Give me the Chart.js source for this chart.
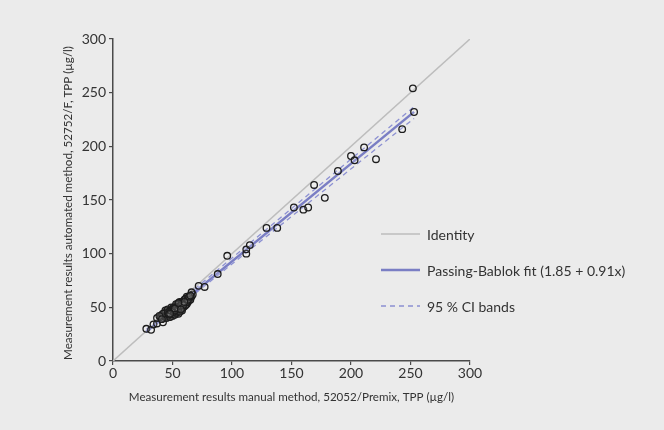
<!DOCTYPE html>
<html>
<head>
<meta charset="utf-8">
<script src="https://cdn.jsdelivr.net/npm/chart.js@4.4.0/dist/chart.umd.min.js"></script>
<style>
html, body { margin: 0; padding: 0; background: #ebebeb; }
#wrap { width: 664px; height: 430px; }
</style>
</head>
<body>
<div id="wrap"><canvas id="chart1" width="664" height="430"></canvas></div>
<script>
// manual method (x) vs automated method (y), TPP in µg/l
var manualVals = [28, 32, 34, 37, 37, 42,
    40, 41, 42, 43, 43, 44, 44, 45, 45, 46, 46, 47, 47, 47, 48, 48, 49, 49, 50, 50, 50,
    51, 51, 52, 52, 53, 53, 54, 54, 55, 55, 55, 56, 56, 57, 57, 58, 58, 59, 60, 60, 61,
    62, 62, 63, 64, 62, 64, 65, 66, 67, 66,
    44, 45, 46, 48, 49, 50, 51, 52, 52, 53, 54, 54, 55, 56, 56, 57, 58, 59, 59, 60,
    61, 61, 62, 63, 63, 64, 65, 58, 53, 49, 47, 42, 39, 41,
    46, 47, 48, 49, 50, 51, 51, 52, 53, 54, 55, 56, 57, 58, 59, 60, 48, 52, 55, 57,
    72, 77, 88, 96, 112, 112, 115, 129, 138, 152, 160, 164, 169, 178, 189, 200, 203,
    211, 221, 243, 252, 253];
var autoVals = [30, 29, 34, 35, 40, 36,
    41, 43, 40, 44, 42, 45, 41, 43, 46, 44, 42, 45, 47, 41, 43, 46, 48, 44, 42, 46, 49,
    47, 44, 50, 46, 48, 51, 45, 49, 52, 44, 47, 50, 53, 49, 54, 52, 47, 55, 51, 54, 56,
    53, 57, 55, 58, 60, 57, 57, 60, 62, 64,
    47, 40, 48, 41, 50, 44, 50, 43, 48, 45, 52, 47, 50, 46, 55, 51, 55, 50, 53, 57,
    52, 58, 55, 59, 57, 60, 61, 49, 53, 46, 43, 44, 42, 39,
    45, 44, 47, 47, 48, 46, 48, 47, 50, 50, 49, 51, 52, 53, 52, 55, 44, 49, 54, 48,
    70, 69, 81, 98, 100, 104, 108, 124, 124, 143, 141, 143, 164, 152, 177, 191, 187,
    199, 188, 216, 254, 232];

var axisTicks = [0, 50, 100, 150, 200, 250, 300];
var identityX = [0, 300];
var fitIntercept = 1.85;
var fitSlope = 0.91;
var fitX = [28, 253];
var ciUpper = [29.5, 237];
var ciLower = [26.5, 226];

var legendLabels = ['Identity', 'Passing-Bablok fit (1.85 + 0.91x)', '95 % CI bands'];
var xTitle = 'Measurement results manual method, 52052/Premix, TPP (\u00b5g/l)';
var yTitle = 'Measurement results automated method, 52752/F, TPP (\u00b5g/l)';

var fontFam = 'Lato, "Noto Sans", sans-serif';
var textColor = '#333333';
var axisColor = '#4a4a4a';

function pairs(xs, ys) {
    return xs.map(function(x, i) { return {x: x, y: ys[i]}; });
}

var scatterPts = pairs(manualVals, autoVals);
var identityPts = pairs(identityX, identityX);
var fitPts = pairs(fitX, fitX.map(function(x) { return fitIntercept + fitSlope * x; }));
var upperPts = pairs(fitX, ciUpper);
var lowerPts = pairs(fitX, ciLower);

// legend and axis titles sit inside / around the plot, drawn by hand
var overlayPlugin = {
    id: 'overlay',
    afterDraw: function(chart) {
        var ctx = chart.ctx;
        var area = chart.chartArea;
        ctx.save();
        ctx.fillStyle = textColor;
        ctx.font = '11.6px ' + fontFam;
        ctx.textAlign = 'center';
        ctx.textBaseline = 'middle';
        ctx.fillText(xTitle, (area.left + area.right) / 2, 397);
        ctx.save();
        ctx.translate(68, (area.top + area.bottom) / 2 + 3);
        ctx.rotate(-Math.PI / 2);
        ctx.fillText(yTitle, 0, 0);
        ctx.restore();

        var rows = [234, 270, 306];
        var sets = [chart.data.datasets[4], chart.data.datasets[3], chart.data.datasets[1]];
        ctx.font = '14px ' + fontFam;
        ctx.textAlign = 'left';
        for (var i = 0; i < rows.length; i++) {
            var ds = sets[i];
            ctx.beginPath();
            ctx.strokeStyle = ds.borderColor;
            ctx.lineWidth = ds.borderWidth;
            ctx.setLineDash(ds.borderDash || []);
            ctx.moveTo(381, rows[i]);
            ctx.lineTo(420, rows[i]);
            ctx.stroke();
            ctx.setLineDash([]);
            ctx.fillStyle = textColor;
            ctx.fillText(legendLabels[i], 427, rows[i] + 1);
        }
        ctx.restore();
    }
};

function axisOpts(isX) {
    return {
        type: 'linear',
        min: 0,
        max: 300,
        afterBuildTicks: function(scale) {
            scale.ticks = axisTicks.map(function(v) { return {value: v}; });
        },
        afterFit: function(scale) {
            if (isX) scale.height = 69;
            else scale.width = 113;
        },
        ticks: {
            color: textColor,
            font: {family: fontFam, size: 14},
            padding: isX ? 0 : 3,
            maxRotation: 0
        },
        grid: {
            drawOnChartArea: false,
            drawTicks: true,
            tickLength: 4,
            color: axisColor,
            lineWidth: 1.2
        },
        border: {display: true, color: axisColor, width: 1.5}
    };
}

new Chart(document.getElementById('chart1'), {
    type: 'scatter',
    data: {
        datasets: [
            {
                data: scatterPts,
                pointRadius: 3.3,
                pointBorderWidth: 1.3,
                borderColor: '#1c1c1c',
                backgroundColor: 'rgba(255,255,255,0.15)'
            },
            {
                data: upperPts,
                showLine: true,
                pointRadius: 0,
                borderColor: '#8c90d2',
                borderWidth: 1.3,
                borderDash: [5, 4]
            },
            {
                data: lowerPts,
                showLine: true,
                pointRadius: 0,
                borderColor: '#8c90d2',
                borderWidth: 1.3,
                borderDash: [5, 4]
            },
            {
                data: fitPts,
                showLine: true,
                pointRadius: 0,
                borderColor: '#7a7ec4',
                borderWidth: 2.5
            },
            {
                data: identityPts,
                showLine: true,
                pointRadius: 0,
                borderColor: '#bdbdbd',
                borderWidth: 1.5
            }
        ]
    },
    options: {
        responsive: false,
        animation: false,
        layout: {padding: {left: 0, top: 39, right: 194, bottom: 0}},
        plugins: {
            legend: {display: false},
            tooltip: {enabled: false}
        },
        scales: {
            x: axisOpts(true),
            y: axisOpts(false)
        }
    },
    plugins: [overlayPlugin]
});
</script>
</body>
</html>
